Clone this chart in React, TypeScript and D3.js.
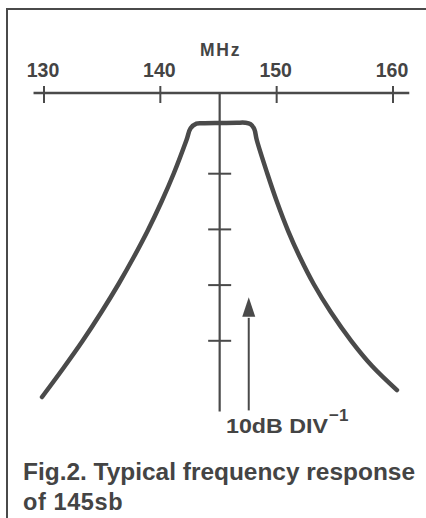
import React from "react";
import * as d3 from "d3";

// ---- data ----
const freqTicks = [130, 140, 150, 160];
const dbTicks = [-10, -20, -30, -40];
const curveFreq = [
  129.83, 131.61, 133.31, 134.94, 136.41, 137.72, 138.9, 140.09, 141.17, 142.25, 142.6, 143.1,
  143.8, 145.2, 146.6, 147.3, 147.75, 148.07,
  148.29, 149.18, 150.03, 150.99, 151.99, 153.18, 154.65, 156.42, 158.2, 160.34,
];
const curveDb = [
  -50.09, -45.06, -40.04, -34.83, -29.8, -24.96, -20.29, -15.08, -9.87, -3.95, -1.85, -1.0,
  -0.95, -0.9, -0.85, -0.85, -1.1, -1.95,
  -3.95, -9.87, -15.08, -20.29, -24.96, -29.8, -34.83, -40.04, -44.52, -48.85,
];
const centerFreq = 145.1;
const arrowFreq = 147.6;
const axisTitle = "MHz";
const scaleLabel = "10dB DIV";
const scaleSup = "\u22121";
const captionLines = ["Fig.2. Typical frequency response", "of 145sb"];

const W = 426;
const H = 518;
const INK = "#4a4a4a";
const TEXT = "#444";
const FONT = "'Liberation Sans', Arial, Helvetica, sans-serif";

export default function App() {
  const x = d3.scaleLinear().domain([130, 160]).range([44, 393]);
  const y = d3.scaleLinear().domain([0, -60]).range([118, 118 + 6 * 55.7]);
  const axisY = 93;

  const pts: [number, number][] = curveFreq.map((f, i) => [f, curveDb[i]]);
  const line = d3
    .line<[number, number]>()
    .x((d) => x(d[0]))
    .y((d) => y(d[1]))
    .curve(d3.curveCatmullRom.alpha(0.5));

  const cx = x(centerFreq);
  const ax = x(arrowFreq);
  const tipY = y(-32.2);
  const baseY = y(-35.7);

  return (
    <svg
      width={W}
      height={H}
      viewBox={`0 0 ${W} ${H}`}
      style={{ position: "absolute", left: 0, top: 0, background: "#fff" }}
    >
      {/* frame */}
      <path d={`M7,${H} L7,9 L${W},9`} fill="none" stroke={INK} strokeWidth={2} />

      {/* frequency axis */}
      <line x1={x(129.1)} x2={x(161.4)} y1={axisY} y2={axisY} stroke={INK} strokeWidth={2.5} />
      {freqTicks.map((t) => (
        <g key={t}>
          <line x1={x(t)} x2={x(t)} y1={axisY - 7} y2={axisY + 10} stroke={INK} strokeWidth={2} />
          <text
            x={x(t) - 1}
            y={77}
            textAnchor="middle"
            fontFamily={FONT}
            fontWeight="bold"
            fontSize={19.5}
            fill={TEXT}
          >
            {t}
          </text>
        </g>
      ))}
      <text
        x={cx + 1}
        y={55.5}
        textAnchor="middle"
        fontFamily={FONT}
        fontWeight="bold"
        fontSize={17.5}
        letterSpacing={1.8}
        fill={TEXT}
      >
        {axisTitle}
      </text>

      {/* centre (dB) line */}
      <line x1={cx} x2={cx} y1={axisY} y2={y(-52.7)} stroke={INK} strokeWidth={2.2} />
      {dbTicks.map((t) => (
        <line key={t} x1={cx - 11.5} x2={cx + 11.5} y1={y(t)} y2={y(t)} stroke={INK} strokeWidth={2} />
      ))}

      {/* response curve */}
      <path d={line(pts) || ""} fill="none" stroke={INK} strokeWidth={4.5} strokeLinejoin="round" strokeLinecap="round" />

      {/* arrow */}
      <line x1={ax} x2={ax} y1={y(-52.5)} y2={baseY + 1} stroke={INK} strokeWidth={2} />
      <polygon points={`${ax},${tipY} ${ax - 6.5},${baseY} ${ax + 6.5},${baseY}`} fill={INK} />

      <text x={226} y={433} fontFamily={FONT} fontWeight="bold" fontSize={21} fill={TEXT}>
        <tspan textLength={102} lengthAdjust="spacingAndGlyphs">{scaleLabel}</tspan>
        <tspan x={329} y={421} fontSize={17}>{scaleSup}</tspan>
      </text>

      {/* caption */}
      <text x={23} y={480} fontFamily={FONT} fontWeight="bold" fontSize={23.5} fill={TEXT} textLength={392} lengthAdjust="spacingAndGlyphs">
        {captionLines[0]}
      </text>
      <text x={23} y={510} fontFamily={FONT} fontWeight="bold" fontSize={23.5} fill={TEXT} letterSpacing={0.6}>
        {captionLines[1]}
      </text>
    </svg>
  );
}
